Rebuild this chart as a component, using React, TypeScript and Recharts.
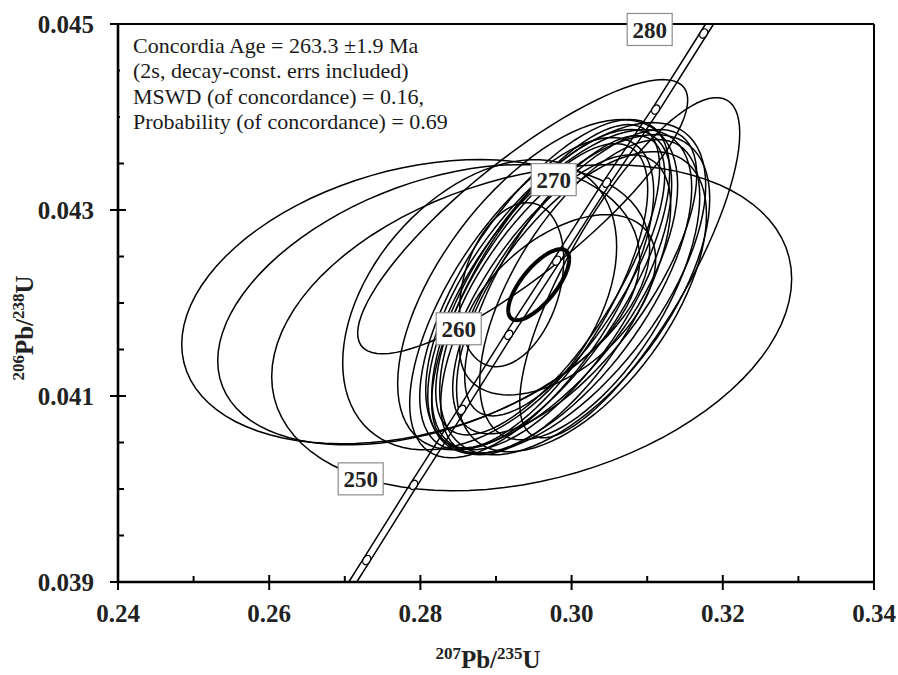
import { ScatterChart, Scatter, XAxis, YAxis, ReferenceLine } from 'recharts';

// axis ticks
const xTicks = [0.24, 0.25, 0.26, 0.27, 0.28, 0.29, 0.3, 0.31, 0.32, 0.33, 0.34];
const yTicks = [0.039, 0.0395, 0.04, 0.0405, 0.041, 0.0415, 0.042, 0.0425, 0.043, 0.0435, 0.044, 0.0445, 0.045];

// concordia curve, ends on the frame
const concX = [0.27105, 0.2729, 0.27911, 0.28546, 0.29168, 0.29803, 0.30464, 0.31112, 0.31747, 0.31825];
const concY = [0.039, 0.039237, 0.040044, 0.040851, 0.041658, 0.042455, 0.043294, 0.04408, 0.044898, 0.045];
const concBand = 0.00053; // half width of decay-constant error band

// age ticks on concordia
const markerAge = [245, 250, 255, 260, 265, 270, 275, 280];
const markerX = [0.2729, 0.27911, 0.28546, 0.29168, 0.29803, 0.30464, 0.31112, 0.31747];
const markerY = [0.039237, 0.040044, 0.040851, 0.041658, 0.042455, 0.043294, 0.04408, 0.044898];

// age label boxes
const labelText = ['250', '260', '270', '280'];
const labelX = [0.2721, 0.28507, 0.29763, 0.31033];
const labelY = [0.040109, 0.041723, 0.043327, 0.044941];

// analyses: 207/235 ratio, 206/238 ratio, 2s errors, error correlation
const ellCx = [0.27872, 0.28176, 0.29472, 0.28784, 0.29353, 0.30769, 0.29816, 0.29208,
  0.29644, 0.29737, 0.29843, 0.29922, 0.30041, 0.29684, 0.2979, 0.29578, 0.30041, 0.30131, 0.29472, 0.29909, 0.3024, 0.29551];
const ellCy = [0.042014, 0.041981, 0.041734, 0.041981, 0.042928, 0.042379, 0.041981, 0.042197,
  0.042197, 0.042143, 0.042121, 0.042164, 0.042089, 0.04225, 0.041981, 0.042078, 0.042229, 0.042014, 0.042057, 0.042293, 0.042143, 0.042197];
const ellSx = [0.03029, 0.02857, 0.03439, 0.01812, 0.02183, 0.01455, 0.01296, 0.00688,
  0.01653, 0.01587, 0.01746, 0.01852, 0.01786, 0.01481, 0.01521, 0.01429, 0.01614, 0.01653, 0.01614, 0.01323, 0.01455, 0.01852];
const ellSy = [0.001528, 0.001507, 0.001754, 0.00156, 0.001474, 0.00183, 0.000969, 0.000882,
  0.001776, 0.001722, 0.001743, 0.001776, 0.001722, 0.001668, 0.001614, 0.001636, 0.001636, 0.001614, 0.001722, 0.001507, 0.001614, 0.001776];
const ellRho = [0.3, 0.4, 0.3, 0.4, 0.85, 0.79, 0.5, 0.3,
  0.68, 0.66, 0.64, 0.62, 0.6, 0.72, 0.66, 0.7, 0.7, 0.58, 0.66, 0.72, 0.62, 0.6];

// concordia age ellipse
const ageEll = { cx: 0.29565, cy: 0.042197, sx: 0.004034, sy: 0.000382, rho: 0.72 };

const ellipsePoints = (cx: number, cy: number, sx: number, sy: number, rho: number) => {
  const pts = [];
  const k = Math.sqrt(1 - rho * rho);
  for (let i = 0; i <= 90; i++) {
    const t = (i / 90) * Math.PI * 2;
    pts.push({ x: cx + sx * Math.cos(t), y: cy + sy * (rho * Math.cos(t) + k * Math.sin(t)) });
  }
  return pts;
};

const ellipses = ellCx.map((cx, i) => ellipsePoints(cx, ellCy[i], ellSx[i], ellSy[i], ellRho[i]));
const ageEllipse = ellipsePoints(ageEll.cx, ageEll.cy, ageEll.sx, ageEll.sy, ageEll.rho);
const concLeft = concX.map((x, i) => ({ x: x - concBand, y: concY[i] }));
const concRight = concX.map((x, i) => ({ x: x + concBand, y: concY[i] }));
const markers = markerAge.map((age, i) => ({ age, x: markerX[i], y: markerY[i] }));
const labels = labelText.map((label, i) => ({ label, x: labelX[i], y: labelY[i] }));

const FONT = '"Liberation Serif", "Times New Roman", serif';
const noShape = () => <g />;

const XTick = (props: any) => {
  const { x, y, payload } = props;
  const v = payload.value;
  const major = Math.round(v * 100) % 2 === 0;
  if (!major) return <line x1={x} x2={x} y1={y} y2={y - 6} stroke="#000" strokeWidth={2} />;
  return (
    <g>
      <line x1={x} x2={x} y1={y - 7} y2={y + 8} stroke="#000" strokeWidth={2} />
      <text x={x} y={y + 31} textAnchor="middle" dominantBaseline="central" fontFamily={FONT} fontWeight="bold" fontSize={25} fill="#222">
        {v.toFixed(2)}
      </text>
    </g>
  );
};

const YTick = (props: any) => {
  const { x, y, payload } = props;
  const v = payload.value;
  const m = v * 1000;
  const major = Math.abs(m - Math.round(m)) < 1e-6 && Math.round(m) % 2 === 1;
  if (!major) return <line x1={x} x2={x + 6} y1={y} y2={y} stroke="#000" strokeWidth={2} />;
  return (
    <g>
      <line x1={x - 8} x2={x + 8} y1={y} y2={y} stroke="#000" strokeWidth={2} />
      <text x={x - 24} y={y} textAnchor="end" dominantBaseline="central" fontFamily={FONT} fontWeight="bold" fontSize={25} fill="#222">
        {v.toFixed(3)}
      </text>
    </g>
  );
};

const Marker = (props: any) => {
  const { cx, cy } = props;
  return <ellipse cx={cx} cy={cy} rx={5} ry={3.5} transform={`rotate(-57.7 ${cx} ${cy})`} fill="#fff" stroke="#000" strokeWidth={1.3} />;
};

const LabelBox = (props: any) => {
  const { cx, cy, payload } = props;
  return (
    <g>
      <rect x={cx - 22.5} y={cy - 16} width={45} height={32} fill="#fff" stroke="#8c8c8c" strokeWidth={1.2} />
      <text x={cx} y={cy + 1} textAnchor="middle" dominantBaseline="central" fontFamily={FONT} fontWeight="bold" fontSize={23} fill="#222">
        {payload.label}
      </text>
    </g>
  );
};

const XTitle = (props: any) => {
  const vb = props.viewBox;
  return (
    <text x={vb.x + vb.width / 2 - 8} y={vb.y + 86} textAnchor="middle" fontFamily={FONT} fontWeight="bold" fill="#222">
      <tspan fontSize={17} dy={-9}>207</tspan>
      <tspan fontSize={25} dy={9}>Pb/</tspan>
      <tspan fontSize={17} dy={-9}>235</tspan>
      <tspan fontSize={25} dy={9}>U</tspan>
    </text>
  );
};

const YTitle = () => (
  <text transform="translate(25 320) rotate(-90)" textAnchor="middle" fontFamily={FONT} fontWeight="bold" fill="#222">
    <tspan fontSize={17} dy={-9}>206</tspan>
    <tspan fontSize={25} dy={9}>Pb/</tspan>
    <tspan fontSize={17} dy={-9}>238</tspan>
    <tspan fontSize={25} dy={9}>U</tspan>
  </text>
);

const legendLines = [
  'Concordia Age = 263.3 \u00b11.9 Ma',
  '(2s, decay-const. errs included)',
  'MSWD (of concordance) = 0.16,',
  'Probability (of concordance) = 0.69',
];

export default function App() {
  return (
    <div style={{ position: 'absolute', width: 890, height: 667 }}>
      <ScatterChart width={890} height={667} margin={{ top: 16, right: 24, left: 0, bottom: 0 }}>
        <XAxis
          type="number"
          dataKey="x"
          domain={[0.24, 0.34]}
          ticks={xTicks}
          interval={0}
          height={93}
          tickLine={false}
          tickSize={0}
          tickMargin={0}
          tick={<XTick />}
          axisLine={{ stroke: '#000', strokeWidth: 2.6 }}
          label={<XTitle />}
        />
        <YAxis
          type="number"
          dataKey="y"
          domain={[0.039, 0.045]}
          ticks={yTicks}
          interval={0}
          width={110}
          tickLine={false}
          tickSize={0}
          tickMargin={0}
          tick={<YTick />}
          axisLine={{ stroke: '#000', strokeWidth: 2.6 }}
          label={<YTitle />}
        />
        <ReferenceLine y={0.045} stroke="#000" strokeWidth={2} />
        <ReferenceLine x={0.34} stroke="#000" strokeWidth={2} />
        {ellipses.map((pts, i) => (
          <Scatter key={'e' + i} data={pts} line={{ stroke: '#000', strokeWidth: 1.5 }} lineType="joint" shape={noShape} isAnimationActive={false} />
        ))}
        <Scatter data={concLeft} line={{ stroke: '#000', strokeWidth: 1.5 }} lineType="joint" shape={noShape} isAnimationActive={false} />
        <Scatter data={concRight} line={{ stroke: '#000', strokeWidth: 1.5 }} lineType="joint" shape={noShape} isAnimationActive={false} />
        <Scatter data={ageEllipse} line={{ stroke: '#000', strokeWidth: 4 }} lineType="joint" shape={noShape} isAnimationActive={false} />
        <Scatter data={markers} shape={<Marker />} isAnimationActive={false} />
        <Scatter data={labels} shape={<LabelBox />} isAnimationActive={false} />
      </ScatterChart>
      <div
        style={{
          position: 'absolute',
          left: 112,
          top: 18,
          width: 350,
          height: 121,
          background: '#fff',
          boxSizing: 'border-box',
          padding: '7px 0 0 13px',
          fontFamily: FONT,
          fontSize: 22,
          lineHeight: '25.3px',
          color: '#1a1a1a',
          whiteSpace: 'nowrap',
        }}
      >
        {legendLines.map((l) => (
          <div key={l}>{l}</div>
        ))}
      </div>
    </div>
  );
}
